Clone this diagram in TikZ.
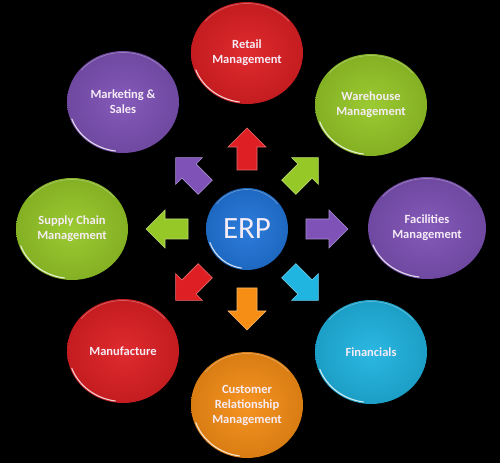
\documentclass[tikz,border=0pt]{standalone}
\usepackage{fontspec}
\setmainfont{Carlito}
\usetikzlibrary{shapes.geometric}
\definecolor{cred}{RGB}{222,32,36}
\definecolor{cgreen}{RGB}{150,200,40}
\definecolor{cpurple}{RGB}{126,82,182}
\definecolor{ccyan}{RGB}{32,180,225}
\definecolor{corange}{RGB}{246,142,22}
\definecolor{cblue}{RGB}{34,118,218}
\definecolor{txt}{RGB}{246,236,246}
\newcommand\rimhl[3]{%
  \draw[white, line width=1.1pt, opacity=.8, line cap=round]
    ([shift={(200:#2 and #3)}]#1.center) arc[start angle=200, end angle=262, x radius=#2, y radius=#3];
  \draw[white, line width=.7pt, opacity=.3, line cap=round]
    ([shift={(40:#2 and #3)}]#1.center) arc[start angle=40, end angle=140, x radius=#2, y radius=#3];}
\newcommand\blockarrow[2]{%
  \begin{scope}[shift={(erp.center)}, rotate=#1]
    \fill[#2, draw=#2!65!white, line width=.6pt, line join=miter]
      (59,-10) -- (82,-10) -- (82,-19) -- (101,0) -- (82,19) -- (82,10) -- (59,10) -- cycle;
  \end{scope}}
\begin{document}
\begin{tikzpicture}[x=1pt,y=1pt,
  bubble/.style={ellipse, inner sep=0pt, minimum width=112pt, minimum height=102pt,
    font=\bfseries\fontsize{12.5}{15}\selectfont, text=txt, align=center},
  redball/.style={inner color=cred!95!white, outer color=cred!88!black},
  greenball/.style={inner color=cgreen!95!white, outer color=cgreen!88!black},
  purpleball/.style={inner color=cpurple!95!white, outer color=cpurple!88!black},
  cyanball/.style={inner color=ccyan!95!white, outer color=ccyan!88!black},
  orangeball/.style={inner color=corange!95!white, outer color=corange!88!black},
  blueball/.style={inner color=cblue!95!white, outer color=cblue!88!black}]
\fill[black] (0,0) rectangle (500,463);
\useasboundingbox (0,0) rectangle (500,463);

\node[circle, inner sep=0pt, minimum size=82pt, blueball, text=txt,
  font=\fontsize{31}{31}\selectfont] (erp) at (247,234) {ERP};
\rimhl{erp}{39.5}{39.5}

\node[bubble, redball] (retail) at (247,410) {Retail\\Management};
\node[bubble, greenball] (warehouse) at (371,358) {Warehouse\\Management};
\node[bubble, purpleball, minimum width=118pt] (facilities) at (427,235) {Facilities\\Management};
\node[bubble, cyanball, minimum height=104pt] (financials) at (371,111) {Financials};
\node[bubble, orangeball, minimum height=106pt] (crm) at (247,58) {Customer\\Relationship\\Management};
\node[bubble, redball, minimum height=104pt] (manufacture) at (123,112) {Manufacture};
\node[bubble, greenball] (supply) at (72,234) {Supply Chain\\Management};
\node[bubble, purpleball] (marketing) at (123,361) {Marketing \&\\Sales};

\rimhl{retail}{54.5}{49.5}
\rimhl{warehouse}{54.5}{49.5}
\rimhl{facilities}{57.5}{49.5}
\rimhl{financials}{54.5}{50.5}
\rimhl{crm}{54.5}{51.5}
\rimhl{manufacture}{54.5}{50.5}
\rimhl{supply}{54.5}{49.5}
\rimhl{marketing}{54.5}{49.5}

\blockarrow{90}{cred}
\blockarrow{45}{cgreen}
\blockarrow{0}{cpurple}
\blockarrow{-45}{ccyan}
\blockarrow{-90}{corange}
\blockarrow{-135}{cred}
\blockarrow{180}{cgreen}
\blockarrow{135}{cpurple}
\end{tikzpicture}
\end{document}
